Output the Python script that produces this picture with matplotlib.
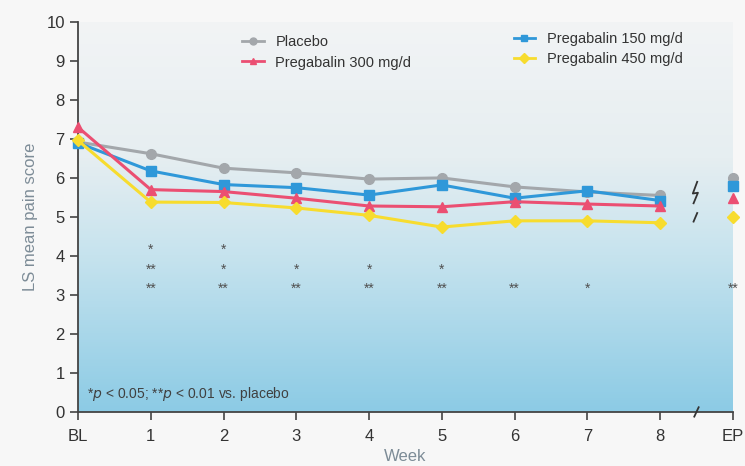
import numpy as np
import matplotlib.pyplot as plt
from matplotlib.colors import LinearSegmentedColormap

plt.rcParams['font.family'] = ['Liberation Sans Narrow', 'Liberation Sans', 'DejaVu Sans']

weeks = [0, 1, 2, 3, 4, 5, 6, 7, 8]
tick_labels = ['BL', '1', '2', '3', '4', '5', '6', '7', '8', 'EP']

placebo = [6.92, 6.62, 6.25, 6.13, 5.97, 6.0, 5.77, 5.64, 5.55]
preg150 = [6.9, 6.18, 5.83, 5.75, 5.56, 5.82, 5.48, 5.67, 5.42]
preg300 = [7.3, 5.7, 5.65, 5.48, 5.28, 5.26, 5.39, 5.33, 5.28]
preg450 = [6.96, 5.38, 5.37, 5.23, 5.04, 4.74, 4.9, 4.9, 4.85]
ep_values = {'placebo': 6.0, '150': 5.78, '300': 5.48, '450': 5.0}

# significance marks: x position, y level, text
sig_x = [1, 2, 1, 2, 3, 4, 5, 1, 2, 3, 4, 5, 6, 7, 9]
sig_y = [4.15, 4.15, 3.65, 3.65, 3.65, 3.65, 3.65, 3.15, 3.15, 3.15, 3.15, 3.15, 3.15, 3.15, 3.15]
sig_txt = ['*', '*', '**', '*', '*', '*', '*', '**', '**', '**', '**', '**', '**', '*', '**']

fig = plt.figure(figsize=(7.45, 4.66), dpi=100)
fig.patch.set_facecolor('#f7f7f7')
ax = fig.add_axes([0.1047, 0.116, 0.879, 0.837])

# background gradient
cmap = LinearSegmentedColormap.from_list('bg', [(0, '#f2f4f5'), (0.35, '#e6eef1'), (0.6, '#c6e3ee'), (1, '#8ccbe5')])
grad = np.linspace(0, 1, 256).reshape(-1, 1)
ax.imshow(grad, aspect='auto', cmap=cmap, extent=[0, 1, 0, 1], transform=ax.transAxes, zorder=0)

series = [
    ('Placebo', placebo, ep_values['placebo'], '#a3a7ab', 'o', 7),
    ('Pregabalin 150 mg/d', preg150, ep_values['150'], '#2f98d9', 's', 7),
    ('Pregabalin 300 mg/d', preg300, ep_values['300'], '#eb4f72', '^', 7),
    ('Pregabalin 450 mg/d', preg450, ep_values['450'], '#f7dc2e', 'D', 6),
]
lines = {}
for name, vals, ep, col, mk, ms in series:
    ln, = ax.plot(weeks, vals, color=col, marker=mk, markersize=ms, linewidth=2.2,
                  label=name, zorder=3, clip_on=False)
    ax.plot([9], [ep], color=col, marker=mk, markersize=ms, linestyle='none',
            zorder=3, clip_on=False)
    lines[name] = ln

for x, y, t in zip(sig_x, sig_y, sig_txt):
    ax.text(x, y, t, ha='center', va='center', fontsize=10, color='#505050', zorder=4)

ax.text(0.12, 0.45, r'*$\it{p}$ < 0.05; **$\it{p}$ < 0.01 vs. placebo', fontsize=10,
        color='#404040', va='center', ha='left', zorder=4)

# axis break marks
ax.plot([8.47, 8.53], [-0.12, 0.12], color='#333333', lw=1.3, clip_on=False, zorder=5)
ax.plot([8.46, 8.52, 8.45, 8.51], [5.35, 5.62, 5.6, 5.9], color='#333333', lw=1.3, zorder=5)
ax.plot([8.46, 8.51], [4.88, 5.1], color='#333333', lw=1.3, zorder=5)

ax.set_xlim(0, 9)
ax.set_ylim(0, 10)
ax.set_xticks(range(10))
ax.set_xticklabels(tick_labels)
ax.set_yticks(range(11))
for s in ['top', 'right']:
    ax.spines[s].set_visible(False)
for s in ['left', 'bottom']:
    ax.spines[s].set_color('#444444')
    ax.spines[s].set_linewidth(1.3)
ax.tick_params(axis='both', colors='#444444', labelsize=12, length=6, width=1.2,
               labelcolor='#333333')
ax.tick_params(axis='x', pad=6)
ax.set_ylabel('LS mean pain score', fontsize=12, color='#7d8c97', labelpad=6)
ax.set_xlabel('Week', fontsize=12, color='#7d8c97', labelpad=4)

leg1 = ax.legend([lines['Placebo'], lines['Pregabalin 300 mg/d']],
                 ['Placebo', 'Pregabalin 300 mg/d'], loc='upper left',
                 bbox_to_anchor=(0.23, 1.0), frameon=False, fontsize=10.5,
                 handlelength=1.5, labelspacing=0.45, labelcolor='#333333')
for h in leg1.legend_handles:
    h.set_markersize(5)
    h.set_linewidth(2)
ax.add_artist(leg1)
leg2 = ax.legend([lines['Pregabalin 150 mg/d'], lines['Pregabalin 450 mg/d']],
                 ['Pregabalin 150 mg/d', 'Pregabalin 450 mg/d'], loc='upper left',
                 bbox_to_anchor=(0.645, 1.008), frameon=False, fontsize=10.5,
                 handlelength=1.5, labelspacing=0.45, labelcolor='#333333')
for h in leg2.legend_handles:
    h.set_markersize(5)
    h.set_linewidth(2)

fig.savefig('out.png', dpi=100, facecolor=fig.get_facecolor())
